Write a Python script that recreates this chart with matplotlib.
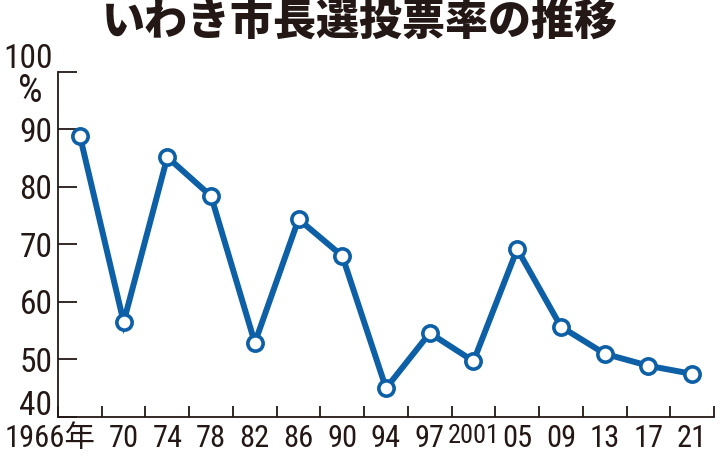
#!/usr/bin/env python3
import matplotlib
matplotlib.use("Agg")
import matplotlib.pyplot as plt

# data
years = ["1966年", "70", "74", "78", "82", "86", "90", "94", "97", "2001",
         "05", "09", "13", "17", "21"]
turnout = [88.9, 56.5, 85.2, 78.4, 52.9, 74.4, 68.0, 45.0, 54.6, 49.7,
           69.2, 55.7, 51.0, 48.9, 47.5]
yticks = [40, 50, 60, 70, 80, 90, 100]

plt.rcParams['font.family'] = ['Roboto Condensed', 'Noto Sans CJK JP', 'DejaVu Sans']
blue = "#0d5fa6"
ink = "#231815"
fs = 24
fsx = 22

fig = plt.figure(figsize=(7.2, 4.66), dpi=100)
ax = fig.add_axes([0.0806, 0.1052, 0.9111, 0.7403])

x = list(range(len(years)))
ax.plot(x, turnout, color=blue, lw=4.3, marker="o", ms=11,
        mfc="white", mec=blue, mew=2.6, solid_joinstyle="miter", zorder=3)

ax.set_xlim(-0.5, len(years) - 0.5)
ax.set_ylim(40, 100)
for s in ['top', 'right']:
    ax.spines[s].set_visible(False)
for s in ['left', 'bottom']:
    ax.spines[s].set_color(ink)
    ax.spines[s].set_linewidth(1.3)

# ticks at category boundaries, labels under the points
ax.set_xticks([i - 0.5 for i in range(len(years) + 1)])
ax.set_xticklabels([])
ax.set_xticks(x, minor=True)
ax.set_xticklabels([""] + years[1:], minor=True)
ax.tick_params(axis='x', which='major', direction='in', length=8, width=1.3, color=ink)
ax.tick_params(axis='x', which='minor', length=0, pad=5, labelsize=fsx,
               labelcolor=ink)
for lab in ax.get_xticklabels(minor=True):
    if lab.get_text() == "2001":
        lab.set_fontsize(19)
# first year label sits to the left, ending near the first tick
ax.annotate(years[0], xy=(0.36, 40), xycoords="data", xytext=(0, -5),
            textcoords="offset points", ha="right", va="top", fontsize=fsx,
            color=ink, annotation_clip=False)

ax.set_yticks(yticks)
ax.set_yticklabels([""] + [str(v) for v in yticks[1:-1]] + [""])
ax.tick_params(axis='y', direction='in', length=14, width=1.3, color=ink,
               labelsize=fs, labelcolor=ink, pad=4)

# 40 raised above the x axis, 100 and % above
ax.annotate(str(yticks[0]), xy=(-0.5, yticks[0]), xytext=(-4, 8),
            textcoords="offset points", ha="right", va="center", fontsize=fs,
            color=ink, annotation_clip=False)
ax.annotate(str(yticks[-1]), xy=(-0.5, yticks[-1]), xytext=(-4, 9),
            textcoords="offset points", ha="right", va="center", fontsize=fs,
            color=ink, annotation_clip=False)
ax.annotate("%", xy=(-0.5, yticks[-1]), xytext=(-20, -14),
            textcoords="offset points", ha="center", va="center", fontsize=28,
            color=ink, annotation_clip=False)

fig.text(0.5, 0.952, "いわき市長選投票率の推移", ha="center", va="center",
         fontsize=31, fontweight="heavy", color=ink,
         family=['Noto Sans CJK JP'])

fig.savefig("out.png", dpi=100)
